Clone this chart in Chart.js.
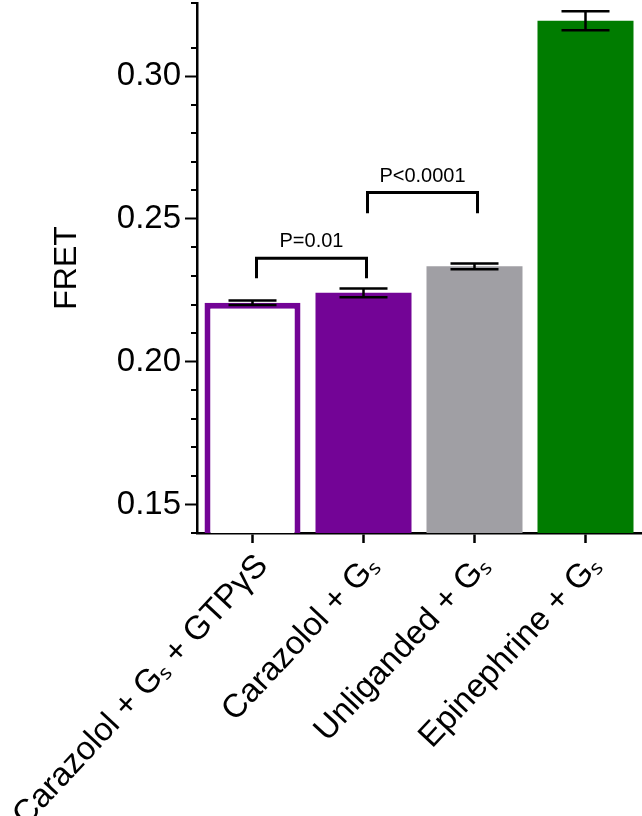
<!DOCTYPE html>
<html>
<head>
<meta charset="utf-8">
<script src="https://cdn.jsdelivr.net/npm/chart.js@4/dist/chart.umd.min.js"></script>
<style>
  html, body { margin: 0; padding: 0; background: #fff; }
  #wrap { width: 642px; height: 816px; position: relative; }
</style>
</head>
<body>
<div id="wrap"><canvas id="c" width="642" height="816"></canvas></div>
<script>
// ---- data ----
const categories = [
  'Carazolol + G\u209B + GTP\u03B3S',
  'Carazolol + G\u209B',
  'Unliganded + G\u209B',
  'Epinephrine + G\u209B'
];
const fretValues = [0.2206, 0.2241, 0.2334, 0.3194];
const semValues  = [0.0008, 0.0015, 0.0010, 0.0033];
const yTickValues = [0.15, 0.20, 0.25, 0.30];
// significance brackets: from/to category index, bracket top, leg bottom, label
const sigFrom   = [0, 1];
const sigTo     = [1, 2];
const sigTop    = [0.2362, 0.2592];
const sigBottom = [0.2292, 0.2520];
const sigLabels = ['P=0.01', 'P<0.0001'];

const PURPLE = '#730496', GREY = '#a09fa4', GREEN = '#007c00';
const FONT = "'Liberation Sans', Arial, Helvetica, sans-serif";

const annotationsPlugin = {
  id: 'annotations',
  afterDatasetsDraw(chart) {
    const { ctx, scales: { x, y } } = chart;
    ctx.save();
    ctx.strokeStyle = '#000';
    ctx.lineCap = 'butt';
    // error bars
    ctx.lineWidth = 2.5;
    fretValues.forEach((v, i) => {
      const cx = x.getPixelForValue(i);
      const yt = y.getPixelForValue(v + semValues[i]);
      const yb = y.getPixelForValue(v - semValues[i]);
      const hw = 24;
      ctx.beginPath();
      ctx.moveTo(cx, yt); ctx.lineTo(cx, yb);
      ctx.moveTo(cx - hw, yt); ctx.lineTo(cx + hw, yt);
      ctx.moveTo(cx - hw, yb); ctx.lineTo(cx + hw, yb);
      ctx.stroke();
    });
    // significance brackets
    ctx.lineWidth = 3;
    ctx.fillStyle = '#000';
    ctx.font = '20px ' + FONT;
    ctx.textAlign = 'center';
    ctx.textBaseline = 'alphabetic';
    sigLabels.forEach((lab, k) => {
      const x1 = x.getPixelForValue(sigFrom[k]) + 4;
      const x2 = x.getPixelForValue(sigTo[k]) + 3;
      const yt = y.getPixelForValue(sigTop[k]);
      const yb = y.getPixelForValue(sigBottom[k]);
      ctx.beginPath();
      ctx.moveTo(x1, yb); ctx.lineTo(x1, yt); ctx.lineTo(x2, yt); ctx.lineTo(x2, yb);
      ctx.stroke();
      ctx.fillText(lab, (x1 + x2) / 2, yt - 11);
    });
    ctx.restore();
  },
  afterDraw(chart) {
    // minor y ticks
    const { ctx, scales: { y } } = chart;
    ctx.save();
    ctx.strokeStyle = '#000';
    ctx.lineWidth = 2;
    y.ticks.forEach(t => {
      const isMajor = yTickValues.some(m => Math.abs(m - t.value) < 1e-6);
      if (isMajor) return;
      const py = Math.round(y.getPixelForValue(t.value));
      ctx.beginPath();
      ctx.moveTo(y.right - 6, py); ctx.lineTo(y.right, py);
      ctx.stroke();
    });
    ctx.restore();
  }
};

new Chart(document.getElementById('c'), {
  type: 'bar',
  data: {
    labels: categories,
    datasets: [{
      data: fretValues,
      backgroundColor: ['#ffffff', PURPLE, GREY, GREEN],
      borderColor: [PURPLE, PURPLE, GREY, GREEN],
      borderWidth: [6, 0, 0, 0],
      borderSkipped: 'start',
      barPercentage: 0.865,
      categoryPercentage: 1.0
    }]
  },
  options: {
    responsive: false,
    animation: false,
    layout: { padding: { top: 3, right: 1, left: 0, bottom: 0 } },
    plugins: { legend: { display: false }, tooltip: { enabled: false } },
    scales: {
      x: {
        grid: { display: true, drawOnChartArea: false, offset: false, tickLength: 10, tickWidth: 2.5, tickColor: '#000' },
        border: { display: true, color: '#000', width: 2.5 },
        ticks: {
          color: '#000', font: { family: FONT, size: 33 },
          maxRotation: 47, minRotation: 47, padding: 4, labelOffset: 10, autoSkip: false
        },
        afterFit(scale) { scale.height = 283; scale.paddingLeft = 0; scale.paddingRight = 0; }
      },
      y: {
        min: 0.14, max: 0.3256,
        grid: {
          display: true, drawOnChartArea: false, tickLength: 12, tickWidth: 2,
          tickColor: ctx => (ctx.tick && yTickValues.some(m => Math.abs(m - ctx.tick.value) < 1e-6)) ? '#000' : 'rgba(0,0,0,0)'
        },
        border: { display: true, color: '#000', width: 2.5 },
        ticks: {
          stepSize: 0.01, autoSkip: false, color: '#000', font: { family: FONT, size: 33 }, padding: 4,
          callback: v => yTickValues.some(m => Math.abs(m - v) < 1e-6) ? v.toFixed(2) : ''
        },
        title: { display: true, text: 'FRET', color: '#000', font: { family: FONT, size: 32 }, padding: { top: 48, bottom: 0 } },
        afterFit(scale) { scale.width = 197; scale.paddingTop = 0; scale.paddingBottom = 0; }
      }
    }
  },
  plugins: [annotationsPlugin]
});
</script>
</body>
</html>
